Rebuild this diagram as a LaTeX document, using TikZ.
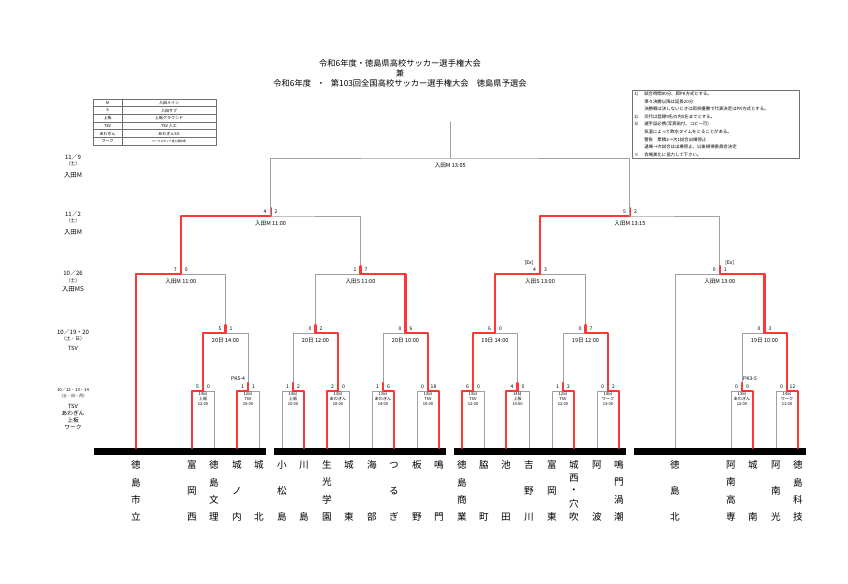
\documentclass[tikz,border=0pt]{standalone}
\usepackage{fontspec}
\setmainfont{Noto Sans CJK JP}
\definecolor{wiregray}{HTML}{A0A0A0}
\definecolor{winred}{HTML}{FF3636}
\definecolor{rulegray}{HTML}{707070}
\pgfdeclarelayer{wires}
\pgfsetlayers{wires,main}

\begin{document}
\begin{tikzpicture}[line cap=round,line join=round,x=0.75pt,y=-0.75pt,
  wire/.style={draw=wiregray,line width=0.7pt},
  win/.style={draw=winred,line width=1.6pt},
  boxline/.style={draw=rulegray,line width=0.4pt},
  headline/.style={font=\fontsize{6.2}{7}\selectfont,inner sep=0pt},
  team/.style={font=\fontsize{7.2}{8}\selectfont,inner sep=0pt},
  score/.style={font=\fontsize{3.8}{4}\selectfont,inner sep=0pt},
  info/.style={font=\fontsize{4.2}{5}\selectfont,inner sep=0pt},
  boxinfo/.style={font=\fontsize{3.1}{3.75}\selectfont,align=center,inner sep=0pt,anchor=north},
  dayl/.style={font=\fontsize{4.5}{5}\selectfont,inner sep=0pt},
  wkday/.style={font=\fontsize{3.5}{4}\selectfont,inner sep=0pt},
  venue/.style={font=\fontsize{4.8}{5}\selectfont,inner sep=0pt},
  legendtext/.style={font=\fontsize{3}{3.5}\selectfont,inner sep=0pt},
  notetext/.style={font=\fontsize{3.3}{4}\selectfont,inner sep=0pt,anchor=west}]
\useasboundingbox (0,0) rectangle (848,583);

% title
\node[headline] (h1) at (400,63) {令和6年度・徳島県高校サッカー選手権大会};
\node[headline] (h2) at (400,73) {兼};
\node[headline] (h3) at (400,83) {令和6年度\hspace{0.7em}・\hspace{0.7em}第103回全国高校サッカー選手権大会\hspace{1em}徳島県予選会};

% venue table
\draw[boxline,line width=0.6pt] (93,99) rectangle (216,145);
\foreach \i in {1,...,5} \draw[boxline] (93,{99+\i*7.67}) -- (216,{99+\i*7.67});
\draw[boxline] (122,99) -- (122,145);
\foreach \k/\v [count=\i from 0] in {M/入田メイン,S/入田サブ,上板/上板グラウンド,TSV/TSV 人工,あわぎん/あわぎんSG,ワーク/{\fontsize{2.1}{2.5}\selectfont ワークスタッフ陸上競技場}}{
  \node[legendtext] (key\i) at (107.5,{99+(\i+0.5)*7.67}) {\k};
  \node[legendtext] (val\i) at (169,{99+(\i+0.5)*7.67}) {\v};
}

% rules
\draw[boxline] (632,90) rectangle (799,158);
\foreach \mk/\txt [count=\i from 0] in {1)/試合時間80分、即PK方式とする。,/準々決勝以降は延長20分,/決勝戦は決しないときは両校優勝で代表決定はPK方式とする。,2)/交代は登録9名の内5名までとする。,3)/選手証必携(写真貼付、コピー可),/気温によって飲水タイムをとることがある。,/警告　累積2→次1試合出場停止,/退場→次試合は出場停止、以後規律委員会決定,※/会場美化に協力して下さい。}{
  \node[notetext] (mk\i) at (634,{94+\i*7.6}) {\mk};
  \node[notetext] (nt\i) at (644,{94+\i*7.6}) {\txt};
}

% dates on the left
\node[dayl] (d1) at (73,157) {11／9};
\node[wkday] (w1) at (73,164) {（土）};
\node[venue] (v1) at (73,175) {入田M};
\node[dayl] (d2) at (73,214) {11／2};
\node[wkday] (w2) at (73,221) {（土）};
\node[venue] (v2) at (73,232) {入田M};
\node[dayl] (d3) at (73,273) {10／26};
\node[wkday] (w3) at (73,281) {（土）};
\node[venue] (v3) at (73,289) {入田MS};
\node[dayl] (d4) at (73,332) {10／19・20};
\node[wkday] (w4) at (73,339) {（土・日）};
\node[venue,font=\fontsize{4.3}{5}\selectfont] (v4) at (73,348) {TSV};
\node[dayl,font=\fontsize{3.2}{4}\selectfont] (d5) at (73,390) {10／12・13・14};
\node[wkday,font=\fontsize{3}{4}\selectfont] (w5) at (73,396) {（土・日・月）};
\node[venue,font=\fontsize{4.3}{5}\selectfont] (v5) at (73,406) {TSV};
\node[venue,font=\fontsize{4.3}{5}\selectfont] (v6) at (73,413) {あわぎん};
\node[venue,font=\fontsize{4.3}{5}\selectfont] (v7) at (73,420) {上板};
\node[venue,font=\fontsize{4.3}{5}\selectfont] (v8) at (73,427) {ワーク};

% bars
\foreach \a/\b in {94/266,274/446,454/626,634/806}
  \fill (\a,448) rectangle (\b,455);

% teams
\foreach \x/\cnt/\chars [count=\k] in {136/4/{徳,島,市,立},192/3/{富,岡,西},214/4/{徳,島,文,理},237/3/{城,ノ,内},259/2/{城,北},282/3/{小,松,島},304/2/{川,島},327/4/{生,光,学,園},349/2/{城,東},372/2/{海,部},394/3/{つ,る,ぎ},417/2/{板,野},439/2/{鳴,門},462/4/{徳,島,商,業},484/2/{脇,町},506/2/{池,田},529/3/{吉,野,川},552/3/{富,岡,東},574/5/{城,西,・,穴,吹},597/2/{阿,波},619/4/{鳴,門,渦,潮},675/3/{徳,島,北},731/4/{阿,南,高,専},753/2/{城,南},776/3/{阿,南,光},798/4/{徳,島,科,技}}{
  \coordinate (t\k) at (\x,448);
  \foreach \c [count=\i from 0] in \chars
    \node[team] (name\k-\i) at (\x,{465+\i*52/(\cnt-1)}) {\c};
}

% matches: name/x/y/left/right/winner/scores
\foreach \m/\x/\y/\l/\r/\w/\sl/\sr in {a/203/391/t2/t3/t2/5/0,b/248/391/t4/t5/t4/1/1,c/293/391/t6/t7/t7/1/2,d/338/391/t8/t9/t8/2/0,e/383/391/t10/t11/t11/1/6,f/428/391/t12/t13/t13/0/18,g/473/391/t14/t15/t14/6/0,h/517.5/391/t16/t17/t16/4/0,i/563/391/t18/t19/t19/1/2,j/608/391/t20/t21/t21/0/2,k/742/391/t23/t24/t24/0/0,l/787/391/t25/t26/t26/0/12,m1/225.5/333/a/b/a/5/1,m2/315.5/333/c/d/d/0/2,m3/405.5/333/e/f/f/0/6,m4/495/333/g/h/g/6/0,m5/585.5/333/i/j/j/0/7,m6/764.5/333/k/l/l/0/3,n1/180.75/274/t1/m1/t1/7/0,n2/360.5/274/m2/m3/m3/1/7,n3/540/274/m4/m5/m4/4/3,n4/719.75/274/t22/m6/m6/0/1,p1/270.6/216/n1/n2/n1/4/2,p2/629.9/216/n3/n4/n3/5/2}{
  \coordinate (\m) at (\x,\y);
  \begin{pgfonlayer}{wires}
    \draw[wire] (\l) |- (\m) -| (\r);
  \end{pgfonlayer}
  \draw[win] (\w) |- (\m) -- ++(0,-8);
  \node[score] (\m-l) at ([shift={(-5.5,-4)}]\m) {\sl};
  \node[score] (\m-r) at ([shift={(5.5,-4)}]\m) {\sr};
}

% final
\coordinate (fin) at (450.25,158);
\coordinate (top) at (450.25,122);
\draw[wire] (p1) |- (fin) -| (p2);
\draw[wire] (fin) -- (top);

% extra marks
\node[score] (pkb) at ([shift={(-10,-12)}]b) {PK5-4};
\node[score] (pkk) at ([shift={(8,-12)}]k) {PK3-5};
\node[score] (exn3) at ([shift={(-11,-11)}]n3) {[Ex]};
\node[score] (exn4) at ([shift={(10,-11)}]n4) {[Ex]};

% kick-off times
\foreach \m/\d/\v/\h in {a/14日/上板/12:00,b/12日/TSV/10:00,c/14日/上板/10:00,d/13日/あわぎん/10:00,e/13日/あわぎん/14:00,f/13日/TSV/10:00,g/13日/TSV/12:00,h/14日/上板/14:00,i/12日/TSV/12:00,j/14日/ワーク/13:00,k/13日/あわぎん/12:00,l/14日/ワーク/11:00}
  \node[boxinfo] (\m-t) at ([shift={(0,1.2)}]\m) {\d\\\v\\\h};
\foreach \m/\txt in {m1/20日 14:00,m2/20日 12:00,m3/20日 10:00,m4/19日 14:00,m5/19日 12:00,m6/19日 10:00,n1/入田M 11:00,n2/入田S 11:00,n3/入田S 13:00,n4/入田M 13:00,p1/入田M 11:00,p2/入田M 13:15,fin/入田M 13:05}
  \node[info] (\m-t) at ([shift={(0,7.5)}]\m) {\txt};
\end{tikzpicture}
\end{document}
